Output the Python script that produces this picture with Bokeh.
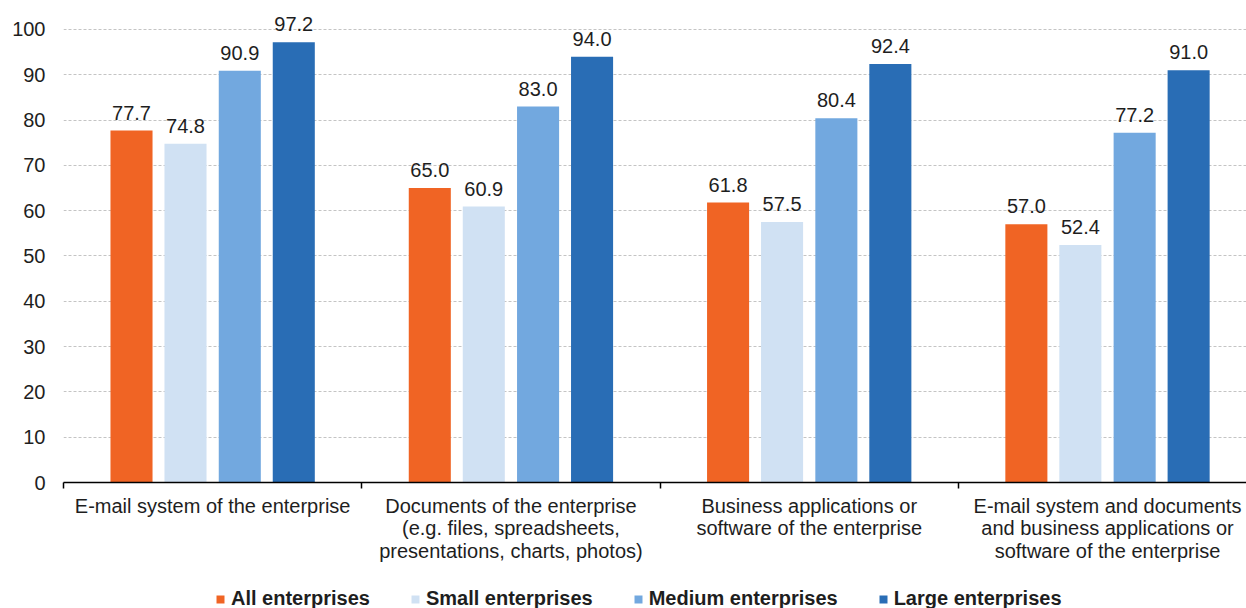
from bokeh.plotting import figure
from bokeh.layouts import column
from bokeh.models import (Range1d, FixedTicker, Legend, LegendItem, ColumnDataSource)
from bokeh.core.properties import value
from bokeh.embed import file_html
from bokeh.resources import INLINE

categories = [
    "E-mail system of the enterprise",
    "Documents of the enterprise\n(e.g. files, spreadsheets,\npresentations, charts, photos)",
    "Business applications or\nsoftware of the enterprise",
    "E-mail system and documents\nand business applications or\nsoftware of the enterprise",
]
series_names = ["All enterprises", "Small enterprises", "Medium enterprises", "Large enterprises"]
all_enterprises = [77.7, 65.0, 61.8, 57.0]
small_enterprises = [74.8, 60.9, 57.5, 52.4]
medium_enterprises = [90.9, 83.0, 80.4, 77.2]
large_enterprises = [97.2, 94.0, 92.4, 91.0]
y_ticks = [0, 10, 20, 30, 40, 50, 60, 70, 80, 90, 100]

colors = ["#F06424", "#D0E1F3", "#72A8DF", "#296DB5"]
offsets = [-0.272, -0.091, 0.091, 0.272]
bar_w = 0.141
FONT = "Liberation Sans"
TXT = "#1e1e1e"

p = figure(frame_width=1183, frame_height=482, output_backend="svg", toolbar_location=None,
           x_range=Range1d(0, 3.966), y_range=Range1d(0, 106.4),
           min_border_left=63, min_border_right=0, min_border_top=0, min_border_bottom=96)
p.outline_line_color = None
p.background_fill_color = "white"
p.border_fill_color = "white"

# legend strip below the chart (its frame is aligned with the chart's frame);
# its ranges keep the keyed series entirely out of view
lg = figure(width=1246, height=30, output_backend="svg", toolbar_location=None,
            x_range=Range1d(-1001, -1000), y_range=Range1d(-1001, -1000),
            x_axis_location=None, y_axis_location=None,
            min_border_left=0, min_border_right=0, min_border_top=0, min_border_bottom=0)
lg.outline_line_color = None
lg.xgrid.visible = False
lg.ygrid.visible = False

items = []
series = [all_enterprises, small_enterprises, medium_enterprises, large_enterprises]
for name, vals, col, off in zip(series_names, series, colors, offsets):
    src = ColumnDataSource(dict(x=[i + 0.5 + off for i in range(len(vals))], top=vals,
                                lab=["%.1f" % v for v in vals]))
    p.vbar(x="x", top="top", width=bar_w, bottom=0, source=src,
           fill_color=col, line_color=None)
    p.text(x="x", y="top", text="lab", source=src, text_align="center",
           text_baseline="alphabetic", y_offset=-18, text_font_size="20px",
           text_font=value(FONT), text_color=TXT)
    r = lg.vbar(x="x", top="top", width=bar_w, bottom=0, source=src,
                fill_color=col, line_color=None)
    items.append(LegendItem(label=name, renderers=[r]))

# grid and axes
p.xgrid.grid_line_color = None
p.ygrid.ticker = FixedTicker(ticks=y_ticks)
p.ygrid.grid_line_color = "#c4c4c4"
p.ygrid.grid_line_dash = "3 2"
p.ygrid.grid_line_width = 1

ya = p.yaxis[0]
ya.ticker = FixedTicker(ticks=y_ticks)
ya.axis_line_color = None
ya.major_tick_line_color = None
ya.minor_tick_line_color = None
ya.major_label_standoff = 12
ya.major_label_text_font = FONT
ya.major_label_text_font_size = "20px"
ya.major_label_text_color = TXT

xa = p.xaxis[0]
xa.ticker = FixedTicker(ticks=[i + 0.5 for i in range(len(categories))],
                        minor_ticks=list(range(len(categories) + 1)))
xa.major_label_overrides = {i + 0.5: c for i, c in enumerate(categories)}
xa.axis_line_color = "#000000"
xa.axis_line_width = 1.5
xa.major_tick_line_color = None
xa.major_tick_out = 0
xa.major_tick_in = 0
xa.minor_tick_line_color = "#000000"
xa.minor_tick_line_width = 1.5
xa.minor_tick_out = 6
xa.minor_tick_in = 0
xa.major_label_standoff = 6
xa.major_label_text_font = FONT
xa.major_label_text_font_size = "20px"
xa.major_label_text_color = TXT
xa.major_label_text_line_height = 1.03

legend = Legend(items=items, orientation="horizontal", location=(152, -2),
                glyph_width=10, glyph_height=10, label_standoff=6, spacing=40,
                label_text_font=FONT, label_text_font_size="20px",
                label_text_font_style="bold", label_text_color=TXT,
                label_height=20, padding=0, margin=0,
                border_line_color=None, background_fill_alpha=0)
lg.add_layout(legend, "center")

layout = column(p, lg, spacing=0)
open("out.html", "w").write(file_html(layout, INLINE))
